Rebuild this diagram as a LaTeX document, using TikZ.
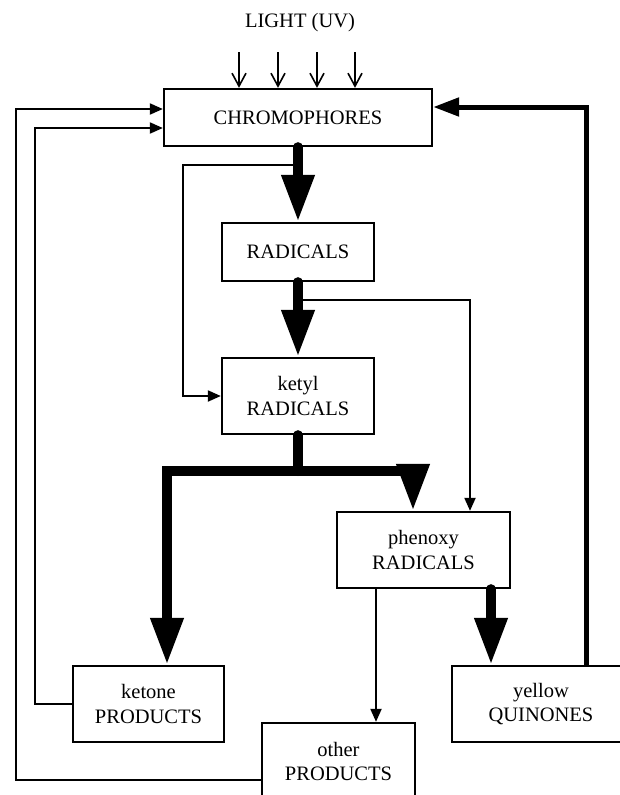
\documentclass[tikz,border=0pt]{standalone}
\usepackage{fontspec}
\setmainfont{Liberation Serif}
\usetikzlibrary{arrows.meta, positioning}

\begin{document}
\begin{tikzpicture}[x=1pt, y=-1pt,
    box/.style={draw, line width=2.3pt, align=center, inner sep=0pt, font=\fontsize{20.5}{24.5}\selectfont},
    thickline/.style={line width=10pt, line cap=round},
    thickarrow/.style={line width=10pt, line cap=round, -{Triangle[length=47pt, width=31pt]}},
    backarrow/.style={line width=5pt, -{Triangle[length=26pt, width=18pt]}},
    thinarrow/.style={line width=2pt, -{Triangle[length=13pt, width=11pt]}},
    uvarrow/.style={line width=1.6pt, -{Straight Barb[length=13pt, width=14pt]}}]

    \useasboundingbox (0,0) rectangle (620,795);

    % Light source
    \node[font=\fontsize{20.5}{24.5}\selectfont] (light) at (300,23) {LIGHT (UV)};

    % Boxes
    \node[box, minimum width=268pt, minimum height=57pt] (chrom) at (298,117.5) {CHROMOPHORES};
    \node[box, minimum width=152pt, minimum height=58pt] (rad) at (298,252) {RADICALS};
    \node[box, minimum width=152pt, minimum height=76pt] (ketyl) at (298,396) {ketyl\\RADICALS};
    \node[box, minimum width=173pt, minimum height=76pt] (phenoxy) at (423.5,550) {phenoxy\\RADICALS};
    \node[box, minimum width=151pt, minimum height=76pt] (ketone) at (148.5,704) {ketone\\PRODUCTS};
    \node[box, minimum width=153pt, minimum height=77pt] (other) at (338.5,761.5) {other\\PRODUCTS};
    \node[box, minimum width=178pt, minimum height=76pt] (quin) at (541,704) {yellow\\QUINONES};

    % UV arrows
    \foreach \x in {239,278,317,355} {
        \coordinate (uv\x) at (\x,52);
        \draw[uvarrow] (uv\x) -- (chrom.north -| uv\x);
    }

    % Main chain
    \draw[thickarrow] (chrom) -- (rad);
    \draw[thickarrow] (rad) -- (ketyl);
    \coordinate (split) at (298,471);
    \draw[thickline] (ketyl.south) -- (split);
    \draw[thickarrow, line cap=butt] (split) -| (ketone.north -| 167,0);
    \draw[thickarrow, line cap=butt] (split) -| (phenoxy.north -| 413,0);
    \draw[thickarrow] (phenoxy.south -| 491,0) -- (quin.north -| 491,0);
    \draw[thinarrow] (phenoxy.south -| 376,0) -- (other.north -| 376,0);

    % Side branches
    \coordinate (b1) at (298,165);
    \coordinate (b2) at (298,300);
    \draw[thinarrow] (b1) -| (ketyl.west -| 183,0) -- (ketyl.west);
    \draw[thinarrow] (b2) -| (phenoxy.north -| 470,0);

    % Feedback loops
    \draw[backarrow] (quin.north -| 586,0) |- (chrom.east |- 0,107);
    \draw[thinarrow] (ketone.west) -| (35,128) -- (chrom.west |- 0,128);
    \draw[thinarrow] (other.west |- 0,780) -| (16,109) -- (chrom.west |- 0,109);

\end{tikzpicture}
\end{document}
